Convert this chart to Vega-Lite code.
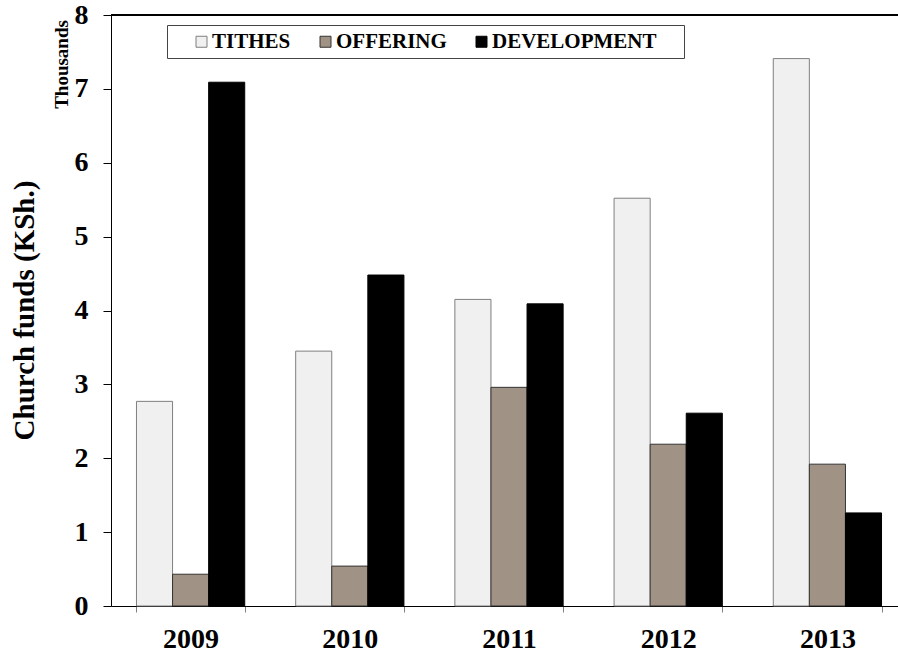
{
  "$schema": "https://vega.github.io/schema/vega-lite/v6.json",
  "autosize": "none",
  "padding": {"left": 111, "top": 15, "right": 0, "bottom": 49},
  "width": 787,
  "height": 591,
  "background": "white",
  "config": {
    "view": {"stroke": null},
    "font": "Liberation Serif"
  },
  "data": {
    "values": [
      {"year": "2009", "type": "TITHES", "value": 2.77},
      {"year": "2009", "type": "OFFERING", "value": 0.43},
      {"year": "2009", "type": "DEVELOPMENT", "value": 7.09},
      {"year": "2010", "type": "TITHES", "value": 3.45},
      {"year": "2010", "type": "OFFERING", "value": 0.54},
      {"year": "2010", "type": "DEVELOPMENT", "value": 4.48},
      {"year": "2011", "type": "TITHES", "value": 4.15},
      {"year": "2011", "type": "OFFERING", "value": 2.96},
      {"year": "2011", "type": "DEVELOPMENT", "value": 4.09},
      {"year": "2012", "type": "TITHES", "value": 5.52},
      {"year": "2012", "type": "OFFERING", "value": 2.19},
      {"year": "2012", "type": "DEVELOPMENT", "value": 2.61},
      {"year": "2013", "type": "TITHES", "value": 7.41},
      {"year": "2013", "type": "OFFERING", "value": 1.92},
      {"year": "2013", "type": "DEVELOPMENT", "value": 1.26}
    ]
  },
  "resolve": {"axis": {"y": "independent"}},
  "layer": [
    {
      "mark": {"type": "rule", "color": "black", "strokeWidth": 1},
      "encoding": {
        "y": {"datum": 8, "type": "quantitative", "scale": {"domain": [0, 8], "nice": false}, "axis": null}
      }
    },
    {
      "mark": {"type": "bar", "strokeWidth": 1},
      "encoding": {
        "x": {
          "field": "year", "type": "nominal",
          "scale": {"range": [0, 796], "paddingInner": 0.32, "paddingOuter": 0.16},
          "axis": {
            "title": null, "labelAngle": 0, "tickBand": "extent",
            "domainColor": "black", "domainWidth": 1,
            "tickColor": "#808080", "tickSize": 6,
            "labelFont": "Liberation Serif", "labelFontWeight": "bold", "labelFontSize": 28,
            "labelColor": "black", "labelPadding": 13
          }
        },
        "xOffset": {"field": "type", "type": "nominal", "sort": ["TITHES", "OFFERING", "DEVELOPMENT"]},
        "y": {
          "field": "value", "type": "quantitative",
          "scale": {"domain": [0, 8], "nice": false},
          "axis": {
            "values": [0, 1, 2, 3, 4, 5, 6, 7, 8], "grid": false,
            "domainColor": "black", "tickColor": "black", "tickSize": 8,
            "labelFont": "Liberation Serif", "labelFontWeight": "bold", "labelFontSize": 28,
            "labelColor": "black", "labelPadding": 15,
            "title": "Church funds (KSh.)",
            "titleFont": "Liberation Serif", "titleFontWeight": "bold", "titleFontSize": 29,
            "titleColor": "black", "titleX": -78, "titleY": 295, "titleBaseline": "alphabetic", "titleAlign": "center", "titleAngle": -90
          }
        },
        "fill": {
          "field": "type", "type": "nominal",
          "sort": ["TITHES", "OFFERING", "DEVELOPMENT"],
          "scale": {"domain": ["TITHES", "OFFERING", "DEVELOPMENT"], "range": ["#f0f0f0", "#a09285", "#000000"]},
          "legend": {
            "orient": "none", "legendX": 56, "legendY": 10, "direction": "horizontal",
            "title": "\u00a0", "titleOrient": "left", "titlePadding": 18, "titleFontSize": 21,
            "fillColor": "white", "strokeColor": "#444", "padding": 6,
            "labelFont": "Liberation Serif", "labelFontWeight": "bold", "labelFontSize": 21, "labelColor": "black",
            "labelExpr": "datum.label == 'DEVELOPMENT' ? 'DEVELOPMENT\u00a0\u00a0\u00a0\u00a0\u200b' : datum.label",
            "symbolType": "square", "symbolSize": 121, "symbolStrokeWidth": 1,
            "columnPadding": 24, "labelOffset": 0, "labelLimit": 400
          }
        },
        "stroke": {
          "field": "type", "type": "nominal",
          "sort": ["TITHES", "OFFERING", "DEVELOPMENT"],
          "scale": {"domain": ["TITHES", "OFFERING", "DEVELOPMENT"], "range": ["#7f7f7f", "#333333", "#000000"]}
        }
      }
    },
    {
      "mark": {"type": "rule", "opacity": 0},
      "encoding": {
        "y": {
          "datum": 0, "type": "quantitative",
          "scale": {"domain": [0, 8], "nice": false},
          "axis": {
            "orient": "left", "labels": false, "ticks": false, "domain": false, "grid": false,
            "title": "Thousands", "titleFont": "Liberation Serif", "titleFontWeight": "bold", "titleFontSize": 19,
            "titleColor": "black", "titleX": -44, "titleY": 49, "titleBaseline": "alphabetic", "titleAlign": "center", "titleAngle": -90
          }
        }
      }
    }
  ]
}
